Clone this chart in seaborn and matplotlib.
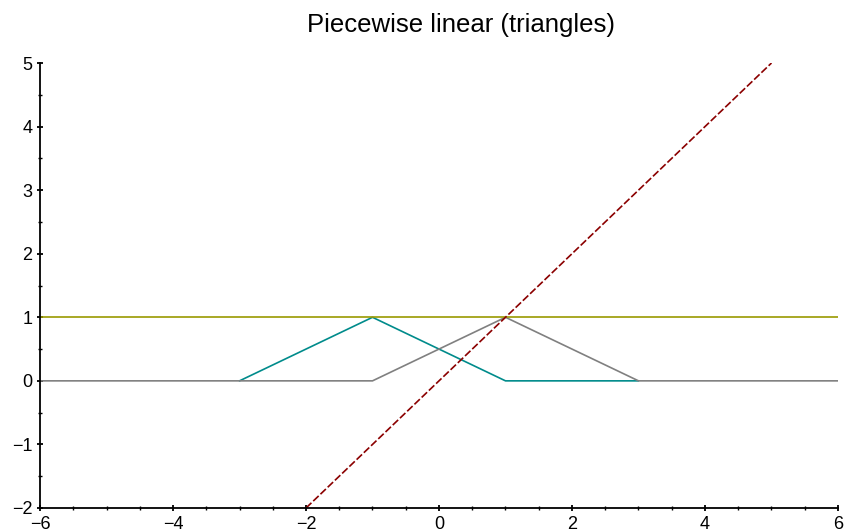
import matplotlib
matplotlib.use("Agg")
import matplotlib.pyplot as plt
from matplotlib.ticker import MultipleLocator
import seaborn as sns
import pandas as pd

# Knot points of each piecewise-linear series
olive_x = [-6, 6]
olive_y = [1, 1]
teal_x = [-3, -1, 1, 3]
teal_y = [0, 1, 0, 0]
gray_x = [-6, -1, 1, 3, 6]
gray_y = [0, 0, 1, 0, 0]
diag_x = [-2, 5]
diag_y = [-2, 5]

x_ticks = [-6, -4, -2, 0, 2, 4, 6]
y_ticks = [-2, -1, 0, 1, 2, 3, 4, 5]

sns.set_theme(style="white")
plt.rcParams["font.family"] = ["Liberation Sans", "DejaVu Sans"]

fig = plt.figure(figsize=(8.45, 5.31), dpi=100)
ax = fig.add_axes([40 / 845, 1 - 508 / 531, (838 - 40) / 845, (508 - 63) / 531])

def draw(xs, ys, color, **kw):
    df = pd.DataFrame({"x": xs, "y": ys})
    sns.lineplot(data=df, x="x", y="y", ax=ax, color=color, sort=False,
                 estimator=None, linewidth=1.2, **kw)

draw(teal_x, teal_y, "#008b8b")
draw(gray_x, gray_y, "#808080")
draw(olive_x, olive_y, "#999900")
draw(diag_x, diag_y, "#8b0000", dashes=False)
ax.lines[-1].set_dashes([4.5, 1.5])

ax.set_xlim(-6, 6)
ax.set_ylim(-2, 5)
ax.set_xticks(x_ticks)
ax.set_yticks(y_ticks)
ax.set_xticklabels([f"{v}".replace("-", "\u2212") for v in x_ticks])
ax.set_yticklabels([f"{v}".replace("-", "\u2212") for v in y_ticks])
ax.xaxis.set_minor_locator(MultipleLocator(0.5))
ax.yaxis.set_minor_locator(MultipleLocator(0.5))
ax.set_xlabel("")
ax.set_ylabel("")

for side in ("top", "right"):
    ax.spines[side].set_visible(False)
for side in ("left", "bottom"):
    ax.spines[side].set_color("black")
    ax.spines[side].set_linewidth(1.3)

ax.tick_params(which="major", direction="inout", length=5, width=1.3,
               colors="black", labelsize=13, pad=3,
               bottom=True, left=True)
ax.tick_params(which="minor", direction="inout", length=2.5, width=1.0,
               colors="black", bottom=True, left=True)

fig.text(461 / 845, 1 - 32 / 531, "Piecewise linear (triangles)",
         ha="center", va="baseline", fontsize=18.5, color="black")

fig.savefig("out.png", dpi=100, facecolor="white")
